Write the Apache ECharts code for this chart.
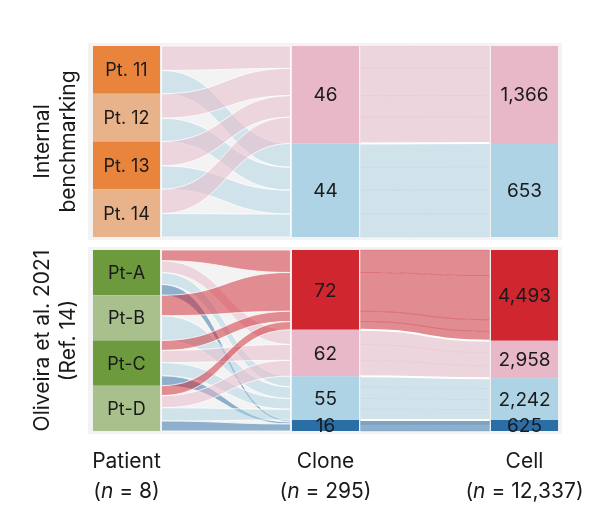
<!DOCTYPE html>
<html>
<head>
<meta charset="utf-8">
<script src="https://cdn.jsdelivr.net/npm/echarts@6/dist/echarts.min.js"></script>
<style>
  html, body { margin: 0; padding: 0; background: #fff; }
  #main { width: 604px; height: 523px; }
</style>
</head>
<body>
<div id="main"></div>
<script>
// column and panel titles
var columns = ['Patient', 'Clone', 'Cell'];
var columnN = ['8', '295', '12,337'];
var panelNames = ['Internal\nbenchmarking', 'Oliveira et al. 2021\n(Ref. 14)'];

// internal benchmarking
var patientsTop = ['Pt. 11', 'Pt. 12', 'Pt. 13', 'Pt. 14'];
var clonesTop = ['46', '44'];
var cellsTop = ['1,366', '653'];
var cloneShareTop = [51, 49];       // block heights (%)
var cellShareTop = [50.8, 49.2];
// [patient, clone group, width at patient side, width at clone side]
var linksTop = [
    [0, 0, 24, 23], [0, 1, 23, 23],
    [1, 0, 24, 28], [1, 1, 23, 22],
    [2, 0, 24, 22], [2, 1, 23, 23],
    [3, 0, 24, 27], [3, 1, 23, 22]
];

// Oliveira et al. 2021
var patientsBottom = ['Pt-A', 'Pt-B', 'Pt-C', 'Pt-D'];
var clonesBottom = ['72', '62', '55', '16'];
var cellsBottom = ['4,493', '2,958', '2,242', '625'];
var cloneShareBottom = [44, 25.7, 24.2, 6.1];
var cellShareBottom = [50.1, 20.8, 23, 6.1];
var linksBottom = [
    [0, 0, 10, 22], [0, 1, 11, 15], [0, 2, 11, 11], [0, 3, 10, 2],
    [1, 0, 19, 38], [1, 2, 23, 12],
    [2, 0, 9, 10], [2, 1, 11, 16], [2, 2, 12, 11], [2, 3, 9, 2],
    [3, 0, 9, 8], [3, 1, 11, 16], [3, 2, 12, 11], [3, 3, 9, 7]
];

var patientColorsTop = ['#e8843b', '#e8b28a', '#e8843b', '#e8b28a'];
var patientColorsBottom = ['#6c9a3c', '#a8c08c', '#6c9a3c', '#a8c08c'];
var groupColorsTop = ['#e8b8c8', '#aed3e4'];
var groupColorsBottom = ['#d0262f', '#e8b8c8', '#aed3e4', '#2b6ea5'];

var NODE_FRAC = 0.337;   // node width as part of a column band
var FONT = 'Inter, Roboto, sans-serif';

function rgba(hex, a) {
    var n = parseInt(hex.slice(1), 16);
    return 'rgba(' + (n >> 16) + ',' + ((n >> 8) & 255) + ',' + (n & 255) + ',' + a + ')';
}

function stack(shares) {
    var sum = 0, acc = 0, out = [];
    shares.forEach(function (s) { sum += s; });
    shares.forEach(function (s) {
        out.push([acc / sum, (acc + s) / sum]);
        acc += s;
    });
    return out;
}

function buildItems(patients, pColors, clones, cells, cloneShare, cellShare, links, gColors) {
    var items = [{kind: 'bg'}];
    var nP = patients.length;
    var pSlots = patients.map(function (p, i) { return [i / nP, (i + 1) / nP]; });
    var cSlots = stack(cloneShare);
    var eSlots = stack(cellShare);

    // widths of each link inside its patient and inside its clone group
    var leftSum = {}, rightSum = {};
    links.forEach(function (l) {
        leftSum[l[0]] = (leftSum[l[0]] || 0) + l[2];
        rightSum[l[1]] = (rightSum[l[1]] || 0) + l[3];
    });
    var leftAcc = {}, rightAcc = {};
    var ribbons = links.map(function (l) {
        var p = l[0], g = l[1];
        var ph = pSlots[p][1] - pSlots[p][0];
        var gh = cSlots[g][1] - cSlots[g][0];
        var la = leftAcc[p] || 0, ra = rightAcc[g] || 0;
        leftAcc[p] = la + l[2];
        rightAcc[g] = ra + l[3];
        return {
            g: g,
            a0: pSlots[p][0] + la / leftSum[p] * ph,
            a1: pSlots[p][0] + (la + l[2]) / leftSum[p] * ph,
            b0: cSlots[g][0] + ra / rightSum[g] * gh,
            b1: cSlots[g][0] + (ra + l[3]) / rightSum[g] * gh
        };
    });
    // patient -> clone ribbons
    ribbons.forEach(function (r) {
        items.push({kind: 'ribbon', c0: 0, c1: 1, a0: r.a0, a1: r.a1, b0: r.b0, b1: r.b1,
            color: gColors[r.g], stroke: 'rgba(255,255,255,0.85)', lw: 0.9});
    });
    // clone -> cell ribbons, one per patient strand
    ribbons.forEach(function (r) {
        var cs = cSlots[r.g], es = eSlots[r.g];
        var k = (es[1] - es[0]) / (cs[1] - cs[0]);
        items.push({kind: 'ribbon', c0: 1, c1: 2, a0: r.b0, a1: r.b1,
            b0: es[0] + (r.b0 - cs[0]) * k, b1: es[0] + (r.b1 - cs[0]) * k,
            color: gColors[r.g], stroke: rgba(gColors[r.g], 0.3), lw: 0.6});
    });
    for (var g = 1; g < cSlots.length; g++) {
        items.push({kind: 'edge', c0: 1, c1: 2, a0: cSlots[g][0], b0: eSlots[g][0]});
    }
    patients.forEach(function (p, i) {
        items.push({kind: 'node', col: 0, y0: pSlots[i][0], y1: pSlots[i][1], color: pColors[i], label: p, fs: 18});
    });
    clones.forEach(function (c, i) {
        items.push({kind: 'node', col: 1, y0: cSlots[i][0], y1: cSlots[i][1], color: gColors[i], label: c, fs: 19});
    });
    cells.forEach(function (c, i) {
        items.push({kind: 'node', col: 2, y0: eSlots[i][0], y1: eSlots[i][1], color: gColors[i], label: c, fs: 19});
    });
    return items;
}

function makeRender(items) {
    return function (params, api) {
        var it = items[params.dataIndex];
        var bw = api.size([1, 0])[0];
        var hw = bw * NODE_FRAC / 2;
        if (it.kind === 'bg') {
            var t = api.coord([0, 0]), b = api.coord([2, 1]);
            return {type: 'rect', z2: 0,
                shape: {x: t[0] - hw - 5, y: t[1] - 3, width: b[0] - t[0] + 2 * hw + 9, height: b[1] - t[1] + 6},
                style: {fill: '#f3f3f3'}};
        }
        if (it.kind === 'node') {
            var p0 = api.coord([it.col, it.y0]), p1 = api.coord([it.col, it.y1]);
            return {type: 'group', children: [
                {type: 'rect', z2: 5,
                    shape: {x: p0[0] - hw, y: p0[1], width: 2 * hw, height: p1[1] - p0[1]},
                    style: {fill: it.color}},
                {type: 'text', z2: 6, x: p0[0], y: (p0[1] + p1[1]) / 2 + 1,
                    style: {text: it.label, fill: '#1a1a1a', font: it.fs + 'px ' + FONT,
                        align: 'center', verticalAlign: 'middle'}}
            ]};
        }
        var xa = api.coord([it.c0, 0])[0] + hw + 1.5;
        var xb = api.coord([it.c1, 0])[0] - hw - 1.5;
        var xm = (xa + xb) / 2;
        var ya0 = api.coord([it.c0, it.a0])[1];
        var yb0 = api.coord([it.c1, it.b0])[1];
        if (it.kind === 'edge') {
            return {type: 'path', z2: 3,
                shape: {pathData: 'M' + xa + ',' + ya0 + ' C' + xm + ',' + ya0 + ' ' + xm + ',' + yb0 + ' ' + xb + ',' + yb0},
                style: {fill: null, stroke: '#fff', lineWidth: 2}};
        }
        var ya1 = api.coord([it.c0, it.a1])[1];
        var yb1 = api.coord([it.c1, it.b1])[1];
        var d = 'M' + xa + ',' + ya0 +
            ' C' + xm + ',' + ya0 + ' ' + xm + ',' + yb0 + ' ' + xb + ',' + yb0 +
            ' L' + xb + ',' + yb1 +
            ' C' + xm + ',' + yb1 + ' ' + xm + ',' + ya1 + ' ' + xa + ',' + ya1 + ' Z';
        return {type: 'path', z2: 2, shape: {pathData: d},
            style: {fill: rgba(it.color, 0.5), stroke: it.stroke, lineWidth: it.lw}};
    };
}

var itemsTop = buildItems(patientsTop, patientColorsTop, clonesTop, cellsTop,
    cloneShareTop, cellShareTop, linksTop, groupColorsTop);
var itemsBottom = buildItems(patientsBottom, patientColorsBottom, clonesBottom, cellsBottom,
    cloneShareBottom, cellShareBottom, linksBottom, groupColorsBottom);

function seriesData(items) {
    return items.map(function (it) {
        return [it.col != null ? it.col : (it.c0 || 0), it.y0 != null ? it.y0 : (it.a0 || 0)];
    });
}

function yAxisFor(i) {
    return {
        gridIndex: i, type: 'value', min: 0, max: 1, inverse: true,
        axisLine: {show: false}, axisTick: {show: false}, axisLabel: {show: false}, splitLine: {show: false},
        name: panelNames[i], nameLocation: 'middle', nameRotate: 90, nameGap: -55,
        nameTextStyle: {fontSize: 21, lineHeight: 26, color: '#1a1a1a', fontFamily: FONT}
    };
}

var chart = echarts.init(document.getElementById('main'));
chart.setOption({
    animation: false,
    grid: [
        {left: 27, width: 597, top: 46, height: 191, outerBoundsMode: 'none'},
        {left: 27, width: 597, top: 250, height: 181, outerBoundsMode: 'none'}
    ],
    xAxis: [
        {gridIndex: 0, type: 'category', data: columns, show: false},
        {gridIndex: 1, type: 'category', data: columns, offset: 2,
            axisLine: {show: false},
            axisTick: {show: true, alignWithLabel: true, length: 6, lineStyle: {color: '#333'}},
            axisLabel: {
                margin: 14,
                formatter: function (v, i) {
                    return '{a|' + v + '}\n{a|(}{i|n}{a| = ' + columnN[i] + ')}';
                },
                rich: {
                    a: {fontSize: 21, lineHeight: 30, color: '#1a1a1a', fontFamily: FONT},
                    i: {fontSize: 21, lineHeight: 30, color: '#1a1a1a', fontFamily: FONT, fontStyle: 'italic'}
                }
            }
        }
    ],
    yAxis: [yAxisFor(0), yAxisFor(1)],
    series: [
        {type: 'custom', xAxisIndex: 0, yAxisIndex: 0, renderItem: makeRender(itemsTop),
            data: seriesData(itemsTop), encode: {x: 0, y: 1}, silent: true},
        {type: 'custom', xAxisIndex: 1, yAxisIndex: 1, renderItem: makeRender(itemsBottom),
            data: seriesData(itemsBottom), encode: {x: 0, y: 1}, silent: true}
    ]
});
</script>
</body>
</html>
